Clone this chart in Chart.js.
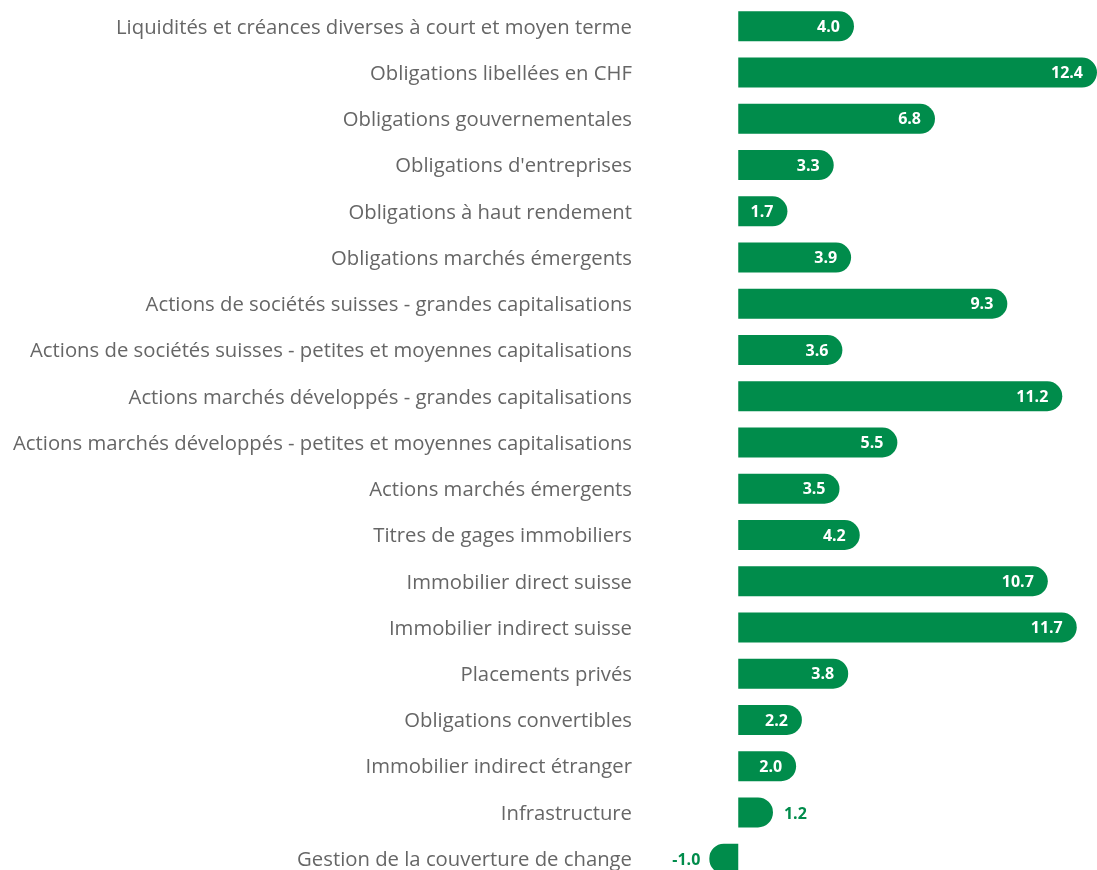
<!DOCTYPE html>
<html>
<head>
<meta charset="utf-8">
<script src="https://cdn.jsdelivr.net/npm/chart.js@4/dist/chart.umd.min.js"></script>
<style>
  html, body { margin: 0; padding: 0; background: #fff; overflow: hidden; }
  #wrap { width: 1097px; height: 897px; position: absolute; left: 0; top: -6px; }
</style>
</head>
<body>
<div id="wrap"><canvas id="chart"></canvas></div>
<script>
// categories and values
const categories = [
    'Liquidités et créances diverses à court et moyen terme',
    'Obligations libellées en CHF',
    'Obligations gouvernementales',
    "Obligations d'entreprises",
    'Obligations à haut rendement',
    'Obligations marchés émergents',
    'Actions de sociétés suisses - grandes capitalisations',
    'Actions de sociétés suisses - petites et moyennes capitalisations',
    'Actions marchés développés - grandes capitalisations',
    'Actions marchés développés - petites et moyennes capitalisations',
    'Actions marchés émergents',
    'Titres de gages immobiliers',
    'Immobilier direct suisse',
    'Immobilier indirect suisse',
    'Placements privés',
    'Obligations convertibles',
    'Immobilier indirect étranger',
    'Infrastructure',
    'Gestion de la couverture de change'
];
const values = [4.0, 12.4, 6.8, 3.3, 1.7, 3.9, 9.3, 3.6, 11.2, 5.5, 3.5, 4.2, 10.7, 11.7, 3.8, 2.2, 2.0, 1.2, -1.0];

const green = '#008c4b';
const FONT = '"Open Sans", "Noto Sans", sans-serif';

// value labels: inside the bar (white) when it fits, outside (green) otherwise
const valueLabels = {
    id: 'valueLabels',
    afterDatasetsDraw(chart) {
        const ctx = chart.ctx;
        const meta = chart.getDatasetMeta(0);
        ctx.save();
        ctx.font = 'bold 16px ' + FONT;
        ctx.textBaseline = 'middle';
        meta.data.forEach((bar, i) => {
            const v = values[i];
            const txt = v.toFixed(1);
            const w = Math.abs(bar.x - bar.base);
            if (w > 42) {
                ctx.fillStyle = '#fff';
                ctx.textAlign = 'right';
                ctx.fillText(txt, bar.x - 14, bar.y + 1);
            } else {
                ctx.fillStyle = green;
                if (v >= 0) {
                    ctx.textAlign = 'left';
                    ctx.fillText(txt, bar.x + 11, bar.y + 2);
                } else {
                    ctx.textAlign = 'right';
                    ctx.fillText(txt, bar.x - 9, bar.y + 2);
                }
            }
        });
        ctx.restore();
    }
};

new Chart(document.getElementById('chart'), {
    type: 'bar',
    data: {
        labels: categories,
        datasets: [{
            data: values,
            backgroundColor: green,
            barThickness: 30,
            borderRadius: 15,
            borderSkipped: 'start',
            inflateAmount: 0
        }]
    },
    options: {
        indexAxis: 'y',
        responsive: true,
        maintainAspectRatio: false,
        animation: false,
        layout: { padding: { top: 3, right: 0, bottom: 0, left: 0 } },
        plugins: { legend: { display: false }, tooltip: { enabled: false } },
        scales: {
            x: {
                display: false,
                min: -3.5,
                max: 12.4
            },
            y: {
                grid: { display: false, drawBorder: false },
                border: { display: false },
                ticks: {
                    color: '#666',
                    padding: -3,
                    labelOffset: 1.5,
                    autoSkip: false,
                    font: { family: FONT, size: 20.3 }
                },
                afterFit(scale) { scale.width = 637; }
            }
        }
    },
    plugins: [valueLabels]
});
</script>
</body>
</html>
